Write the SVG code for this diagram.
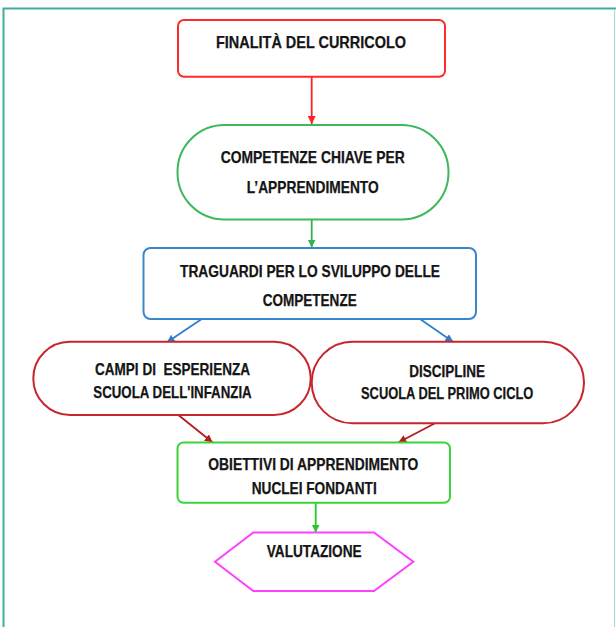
<svg xmlns="http://www.w3.org/2000/svg" width="616" height="627" viewBox="0 0 616 627">
<style>
  .lbl { font-family: "Liberation Sans", "DejaVu Sans", sans-serif; font-weight: bold; font-size: 16.5px; fill: #151515; stroke: #151515; stroke-width: 0.25; white-space: pre; }
  .node { fill: #ffffff; stroke-width: 2; }
  .conn { fill: none; stroke-width: 1.8; }
</style>
<defs>
  <marker id="ahRed" markerUnits="userSpaceOnUse" markerWidth="9" markerHeight="9" refX="8" refY="4" orient="auto"><path d="M0,0 L8,4 L0,8 z" fill="#ff2222"/></marker>
  <marker id="ahGreen" markerUnits="userSpaceOnUse" markerWidth="9" markerHeight="9" refX="8" refY="4" orient="auto"><path d="M0,0 L8,4 L0,8 z" fill="#2fb34f"/></marker>
  <marker id="ahBlue" markerUnits="userSpaceOnUse" markerWidth="9" markerHeight="9" refX="8" refY="4" orient="auto"><path d="M0,0 L8,4 L0,8 z" fill="#2f7fcc"/></marker>
  <marker id="ahDark" markerUnits="userSpaceOnUse" markerWidth="9" markerHeight="9" refX="8" refY="4" orient="auto"><path d="M0,0 L8,4 L0,8 z" fill="#b51c1c"/></marker>
  <marker id="ahLime" markerUnits="userSpaceOnUse" markerWidth="9" markerHeight="9" refX="8" refY="4" orient="auto"><path d="M0,0 L8,4 L0,8 z" fill="#22cc22"/></marker>
</defs>
<rect width="616" height="627" fill="#ffffff"/>
<g id="frame">
  <path d="M3.5,640 L3.5,8.5 L616,8.5" fill="none" stroke="#3fae9c" stroke-width="2"/>
  <path d="M614.5,9 L614.5,640" fill="none" stroke="#a9dcd2" stroke-width="1.2"/>
</g>
<g id="connectors">
  <path class="conn" d="M311.7,76.7 L311.7,124" stroke="#ff2222" marker-end="url(#ahRed)"/>
  <path class="conn" d="M311.7,219.5 L311.7,247.5" stroke="#2fb34f" marker-end="url(#ahGreen)"/>
  <path class="conn" d="M201.7,319 L166.7,342.5" stroke="#2f7fcc" marker-end="url(#ahBlue)"/>
  <path class="conn" d="M420,319 L453.3,342" stroke="#2f7fcc" marker-end="url(#ahBlue)"/>
  <path class="conn" d="M178.3,415 L212.7,442.5" stroke="#b51c1c" marker-end="url(#ahDark)"/>
  <path class="conn" d="M435,423.3 L398.3,442.5" stroke="#b51c1c" marker-end="url(#ahDark)"/>
  <path class="conn" d="M315.7,502.7 L315.7,532.5" stroke="#22cc22" marker-end="url(#ahLime)"/>
</g>
<g id="finalita">
  <rect class="node" x="178" y="20" width="267" height="56.7" rx="6" stroke="#ff2a2a"/>
  <text class="lbl" x="216" y="47.7" textLength="190" lengthAdjust="spacingAndGlyphs">FINALITÀ DEL CURRICOLO</text>
</g>
<g id="competenze">
  <rect class="node" x="177.5" y="125" width="271" height="94.5" rx="47" stroke="#3db85a"/>
  <text class="lbl" x="220.7" y="163.3" textLength="184" lengthAdjust="spacingAndGlyphs">COMPETENZE CHIAVE PER</text>
  <text class="lbl" x="246.7" y="192.7" textLength="132" lengthAdjust="spacingAndGlyphs">L’APPRENDIMENTO</text>
</g>
<g id="traguardi">
  <rect class="node" x="143.5" y="248" width="332.5" height="71" rx="7" stroke="#3a86cc"/>
  <text class="lbl" x="180" y="276.7" textLength="260" lengthAdjust="spacingAndGlyphs">TRAGUARDI PER LO SVILUPPO DELLE</text>
  <text class="lbl" x="262.7" y="306" textLength="94" lengthAdjust="spacingAndGlyphs">COMPETENZE</text>
</g>
<g id="campi">
  <rect class="node" x="33.3" y="341.7" width="277.4" height="73.3" rx="36.6" stroke="#c8262e"/>
  <text class="lbl" x="95" y="375" textLength="155" lengthAdjust="spacingAndGlyphs" xml:space="preserve">CAMPI DI  ESPERIENZA</text>
  <text class="lbl" x="93.3" y="398.3" textLength="158.4" lengthAdjust="spacingAndGlyphs">SCUOLA DELL'INFANZIA</text>
</g>
<g id="discipline">
  <rect class="node" x="311.7" y="341.7" width="272.3" height="81.6" rx="40.8" stroke="#c8262e"/>
  <text class="lbl" x="409.3" y="376.7" textLength="75.7" lengthAdjust="spacingAndGlyphs">DISCIPLINE</text>
  <text class="lbl" x="361" y="399.3" textLength="172.3" lengthAdjust="spacingAndGlyphs">SCUOLA DEL PRIMO CICLO</text>
</g>
<g id="obiettivi">
  <rect class="node" x="177.5" y="442.5" width="272.5" height="60.2" rx="6" stroke="#3cd23c"/>
  <text class="lbl" x="208.3" y="470" textLength="210" lengthAdjust="spacingAndGlyphs">OBIETTIVI DI APPRENDIMENTO</text>
  <text class="lbl" x="251.7" y="494.3" textLength="125" lengthAdjust="spacingAndGlyphs">NUCLEI FONDANTI</text>
</g>
<g id="valutazione">
  <polygon class="node" points="253.3,532.5 374,532.5 413.3,561.7 374,591 253.3,591 215,561.7" stroke="#ff40ff" stroke-width="2.5"/>
  <text class="lbl" x="266.7" y="556.7" textLength="95" lengthAdjust="spacingAndGlyphs">VALUTAZIONE</text>
</g>
</svg>
